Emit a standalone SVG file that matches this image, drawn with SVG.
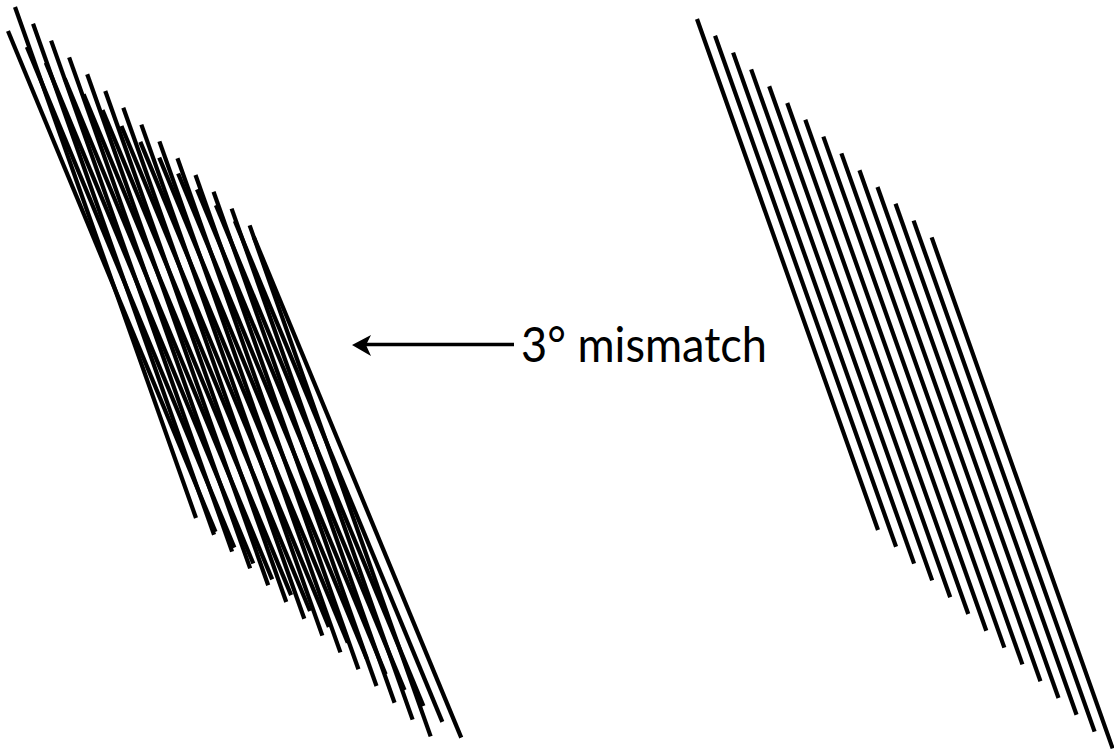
<svg xmlns="http://www.w3.org/2000/svg" width="1114" height="751" viewBox="0 0 1114 751">
  <style>
    .ln line { stroke: #000; stroke-width: 4.2; stroke-linecap: butt; fill: none; }
    .lbl { font-family: Lato, "Open Sans", "Liberation Sans", sans-serif; font-size: 49px; fill: #000; }
    .arr { stroke: #000; stroke-width: 3.5; fill: none; }
    .head { fill: #000; stroke: none; }
  </style>
  <g id="left-set-a" class="ln">
    <line x1="15" y1="7" x2="196" y2="518"/>
    <line x1="33.05" y1="23.8" x2="214.05" y2="534.8"/>
    <line x1="51.1" y1="40.6" x2="232.1" y2="551.6"/>
    <line x1="69.15" y1="57.4" x2="250.15" y2="568.4"/>
    <line x1="87.2" y1="74.2" x2="268.2" y2="585.2"/>
    <line x1="105.25" y1="91" x2="286.25" y2="602"/>
    <line x1="123.3" y1="107.8" x2="304.3" y2="618.8"/>
    <line x1="141.35" y1="124.6" x2="322.35" y2="635.6"/>
    <line x1="159.4" y1="141.4" x2="340.4" y2="652.4"/>
    <line x1="177.45" y1="158.2" x2="358.45" y2="669.2"/>
    <line x1="195.5" y1="175" x2="376.5" y2="686"/>
    <line x1="213.55" y1="191.8" x2="394.55" y2="702.8"/>
    <line x1="231.6" y1="208.6" x2="412.6" y2="719.6"/>
    <line x1="249.65" y1="225.4" x2="430.65" y2="736.4"/>
  </g>
  <g id="left-set-b" class="ln" transform="rotate(-3 470 153)">
    <line x1="15" y1="7" x2="196" y2="518"/>
    <line x1="33.05" y1="23.8" x2="214.05" y2="534.8"/>
    <line x1="51.1" y1="40.6" x2="232.1" y2="551.6"/>
    <line x1="69.15" y1="57.4" x2="250.15" y2="568.4"/>
    <line x1="87.2" y1="74.2" x2="268.2" y2="585.2"/>
    <line x1="105.25" y1="91" x2="286.25" y2="602"/>
    <line x1="123.3" y1="107.8" x2="304.3" y2="618.8"/>
    <line x1="141.35" y1="124.6" x2="322.35" y2="635.6"/>
    <line x1="159.4" y1="141.4" x2="340.4" y2="652.4"/>
    <line x1="177.45" y1="158.2" x2="358.45" y2="669.2"/>
    <line x1="195.5" y1="175" x2="376.5" y2="686"/>
    <line x1="213.55" y1="191.8" x2="394.55" y2="702.8"/>
    <line x1="231.6" y1="208.6" x2="412.6" y2="719.6"/>
    <line x1="249.65" y1="225.4" x2="430.65" y2="736.4"/>
  </g>
  <g id="right-set" class="ln" transform="translate(682 12)">
    <line x1="15" y1="7" x2="196" y2="518"/>
    <line x1="33.05" y1="23.8" x2="214.05" y2="534.8"/>
    <line x1="51.1" y1="40.6" x2="232.1" y2="551.6"/>
    <line x1="69.15" y1="57.4" x2="250.15" y2="568.4"/>
    <line x1="87.2" y1="74.2" x2="268.2" y2="585.2"/>
    <line x1="105.25" y1="91" x2="286.25" y2="602"/>
    <line x1="123.3" y1="107.8" x2="304.3" y2="618.8"/>
    <line x1="141.35" y1="124.6" x2="322.35" y2="635.6"/>
    <line x1="159.4" y1="141.4" x2="340.4" y2="652.4"/>
    <line x1="177.45" y1="158.2" x2="358.45" y2="669.2"/>
    <line x1="195.5" y1="175" x2="376.5" y2="686"/>
    <line x1="213.55" y1="191.8" x2="394.55" y2="702.8"/>
    <line x1="231.6" y1="208.6" x2="412.6" y2="719.6"/>
    <line x1="249.65" y1="225.4" x2="430.65" y2="736.4"/>
  </g>
  <g id="connectors">
    <line class="arr" x1="514" y1="344.5" x2="366" y2="344.5"/>
    <path class="head" d="M352,345 L371,335 L366,345 L371,356 Z"/>
  </g>
  <g id="label">
    <text class="lbl" x="521" y="362" textLength="246" lengthAdjust="spacingAndGlyphs">3° mismatch</text>
  </g>
</svg>
